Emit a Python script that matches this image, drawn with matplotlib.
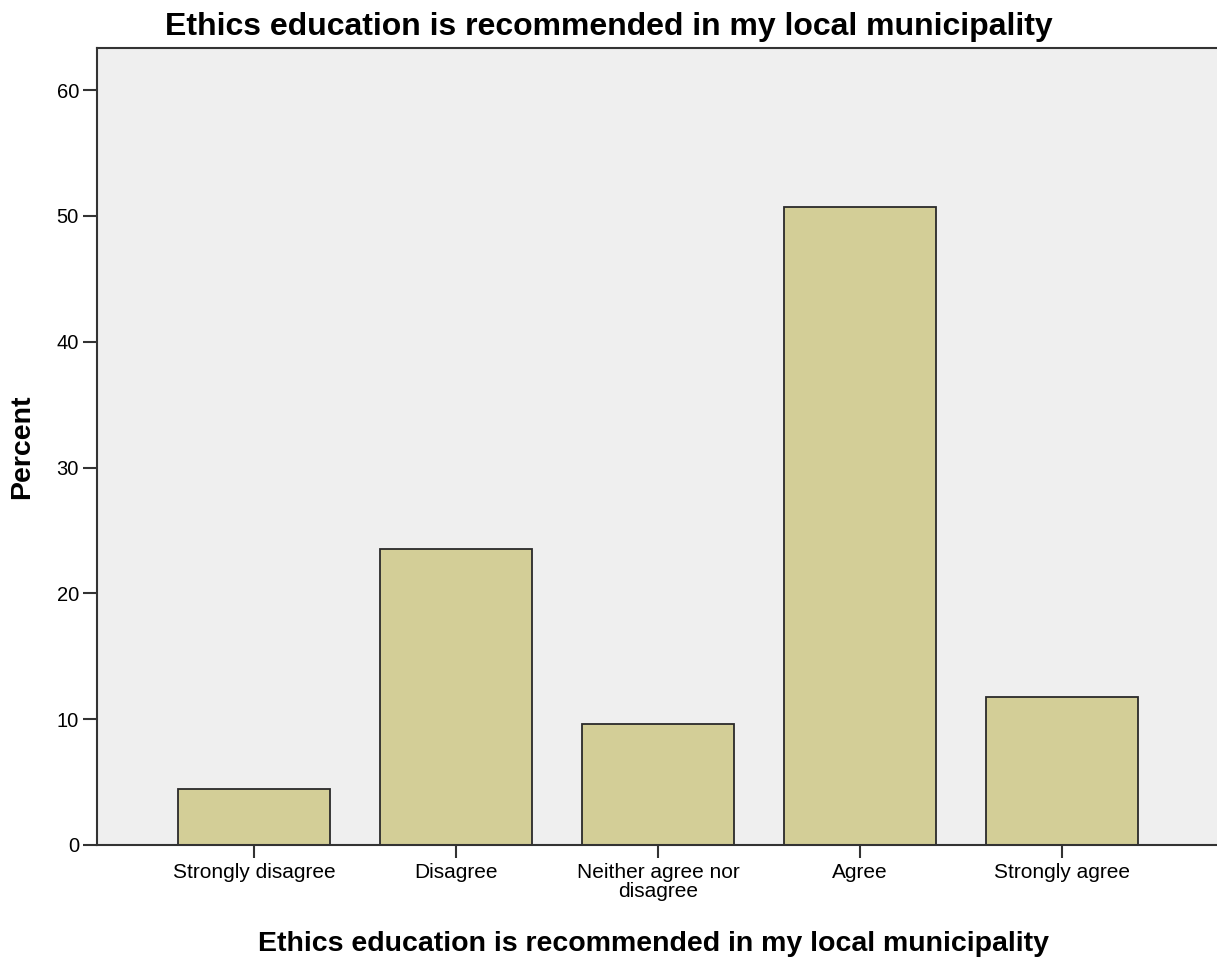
import matplotlib.pyplot as plt

categories = ['Strongly disagree', 'Disagree', 'Neither agree nor\ndisagree',
              'Agree', 'Strongly agree']
percent = [4.45, 23.5, 9.6, 50.7, 11.8]

plt.rcParams['font.family'] = ['Liberation Sans', 'DejaVu Sans']

W, H = 1217, 958
fig = plt.figure(figsize=(W / 100, H / 100), dpi=100)
ax = fig.add_axes([97 / W, 1 - 845 / H, 1 - 97 / W, (845 - 48) / H])
ax.set_facecolor('#efefef')

x = range(len(categories))
ax.bar(x, percent, width=0.75, color='#d3ce97', edgecolor='#2a2a2a', linewidth=1.3, zorder=2)

ax.set_xlim(-0.777, 4.767)
ax.set_ylim(0, 63.35)
ax.set_yticks([0, 10, 20, 30, 40, 50, 60])
ax.set_xticks(list(x))
ax.set_xticklabels(categories, fontsize=15, linespacing=1.0)
ax.tick_params(axis='y', labelsize=14.5, length=10, width=1.5, color='#333333', pad=3)
ax.tick_params(axis='x', length=9, width=1.5, color='#333333', pad=4)

for side in ['left', 'bottom', 'top']:
    ax.spines[side].set_color('#333333')
    ax.spines[side].set_linewidth(1.5)
ax.spines['right'].set_visible(False)

fig.text(0.5, 1 - 35 / H, 'Ethics education is recommended in my local municipality',
         ha='center', va='baseline', fontsize=23, fontweight='bold')
fig.text(653.5 / W, 1 - 951 / H, 'Ethics education is recommended in my local municipality',
         ha='center', va='baseline', fontsize=20.5, fontweight='bold')
fig.text(22 / W, 1 - 447 / H, 'Percent', rotation=90,
         ha='center', va='center', fontsize=20.5, fontweight='bold')

fig.savefig('out.png', dpi=100)
